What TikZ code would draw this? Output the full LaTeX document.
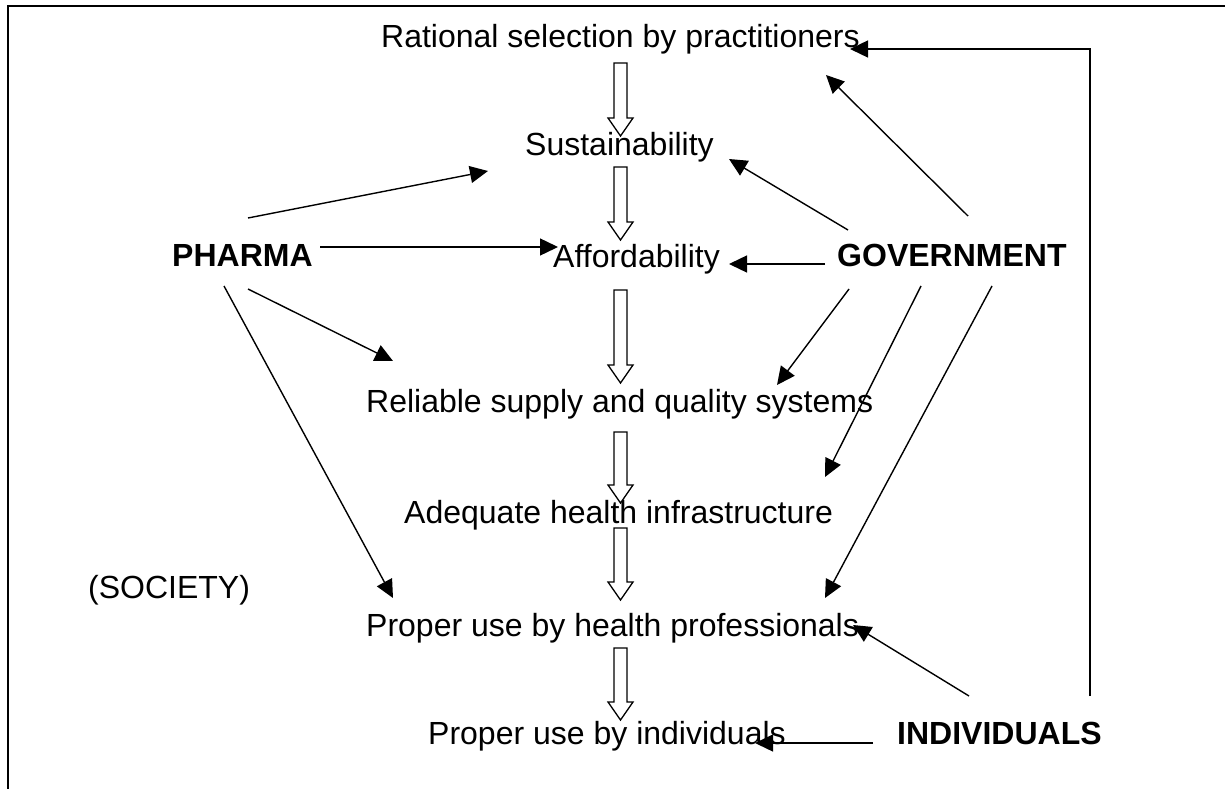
\documentclass[tikz,border=0pt]{standalone}
\usepackage{fontspec}
\setmainfont{Liberation Sans}
\usetikzlibrary{arrows.meta}
\begin{document}
\begin{tikzpicture}[x=1pt,y=-1pt,
  lbl/.style={anchor=base west,inner sep=0pt,font=\fontsize{32}{38}\selectfont},
  actor/.style={lbl,font=\fontsize{32}{38}\selectfont\bfseries},
  link/.style={line width=1.4pt,-{Triangle[length=18pt,width=17pt]}},
  hollow/.style={line width=1.3pt,draw=black,fill=white,line join=miter},
  frame/.style={line width=2.2pt}]
\useasboundingbox (0,0) rectangle (1225,789);
\draw[frame] (8,789) -- (8,6) -- (1225,6);
% text nodes
\node[lbl] (rat) at (381,48) {Rational selection by practitioners};
\node[lbl] (sus) at (525,155) {Sustainability};
\node[lbl] (aff) at (553,267) {Affordability};
\node[lbl] (rel) at (366,412) {Reliable supply and quality systems};
\node[lbl] (ade) at (404,523) {Adequate health infrastructure};
\node[lbl] (soc) at (88,598) {(SOCIETY)};
\node[lbl] (phe) at (366,636) {Proper use by health professionals};
\node[lbl] (pin) at (428,744) {Proper use by individuals};
\node[actor] (pha) at (172,266) {PHARMA};
\node[actor] (gov) at (837,266) {GOVERNMENT};
\node[actor] (ind) at (897,744) {INDIVIDUALS};
% hollow block arrows
\newcommand\hollowarrow[2]{%
  \draw[hollow] (614,#1) -- (627,#1) -- (627,#2-18) -- (633,#2-18) -- (620.5,#2)
    -- (608,#2-18) -- (614,#2-18) -- cycle;}
\hollowarrow{63}{136}
\hollowarrow{167}{240}
\hollowarrow{290}{383}
\hollowarrow{432}{503}
\hollowarrow{528}{600}
\hollowarrow{648}{720}
% connector end points
\coordinate (pha1) at (248,218); \coordinate (sus1) at (488,171);
\coordinate (pha2) at (320,247); \coordinate (aff1) at (558,247);
\coordinate (pha3) at (248,289); \coordinate (rel1) at (393,361);
\coordinate (pha4) at (224,286); \coordinate (phe1) at (393,598);
\coordinate (gov1) at (968,216); \coordinate (rat1) at (826,75);
\coordinate (gov2) at (848,230); \coordinate (sus2) at (729,159);
\coordinate (gov3) at (825,264); \coordinate (aff2) at (729,264);
\coordinate (gov4) at (849,289); \coordinate (rel2) at (777,385);
\coordinate (gov5) at (921,286); \coordinate (ade1) at (825,477);
\coordinate (gov6) at (992,286); \coordinate (phe2) at (825,598);
\coordinate (ind1) at (969,696); \coordinate (phe3) at (853,625);
\coordinate (ind2) at (873,743); \coordinate (pin1) at (755,743);
\coordinate (ind3) at (1090,696); \coordinate (cor) at (1090,49); \coordinate (rat2) at (850,49);
% connectors
\draw[link] (pha1) -- (sus1);
\draw[link] (pha2) -- (aff1);
\draw[link] (pha3) -- (rel1);
\draw[link] (pha4) -- (phe1);
\draw[link] (gov1) -- (rat1);
\draw[link] (gov2) -- (sus2);
\draw[link] (gov3) -- (aff2);
\draw[link] (gov4) -- (rel2);
\draw[link] (gov5) -- (ade1);
\draw[link] (gov6) -- (phe2);
\draw[link] (ind1) -- (phe3);
\draw[link] (ind2) -- (pin1);
\draw[link] (ind3) -- (cor) -- (rat2);
\end{tikzpicture}
\end{document}
